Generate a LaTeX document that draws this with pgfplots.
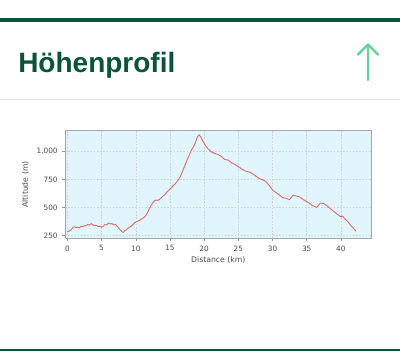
\documentclass[border=0pt]{standalone}
\usepackage{fontspec}
\setmainfont{DejaVu Sans}
\newfontfamily\titlefont{Liberation Sans}
\usepackage{pgfplots}
\pgfplotsset{compat=1.18}
\definecolor{darkgreen}{RGB}{10,84,58}
\definecolor{lightgreen}{RGB}{95,212,150}
\definecolor{plotbg}{RGB}{225,245,252}
\definecolor{profile}{RGB}{222,110,110}
\definecolor{axgray}{RGB}{75,75,75}
\begin{document}
\begin{tikzpicture}
\begin{scope}[x=0.75pt,y=-0.75pt]
\path[use as bounding box, fill=white] (0,0) rectangle (400,351);
\fill[darkgreen] (0,17.5) rectangle (400,22);
\fill[darkgreen] (0,348.5) rectangle (400,351);
\draw[color={rgb,255:red,232;green,232;blue,232}, line width=0.75pt] (0,99.5) -- (400,99.5);
\node[anchor=base west, inner sep=0pt, text=darkgreen, font=\titlefont\bfseries\fontsize{21}{24}\selectfont] at (18,72) {Höhenprofil};
\draw[lightgreen, line width=1.6pt, line cap=round, line join=round] (368,80) -- (368,44.5);
\draw[lightgreen, line width=1.6pt, line cap=round, line join=round] (358,54.5) -- (368,44.5) -- (378,54.5);
\end{scope}
\begin{axis}[
  at={(48.75pt,-178.7pt)}, anchor=south west,
  scale only axis, width=230pt, height=80.7pt,
  xmin=-0.35, xmax=44.5, ymin=227, ymax=1187,
  axis background/.style={fill=plotbg},
  axis line style={gray!70, line width=0.4pt},
  xtick={0,5,...,40}, ytick={250,500,750,1000},
  tick align=outside, tick pos=left,
  major tick length=2pt,
  tick style={gray!80, line width=0.4pt},
  grid=major,
  major grid style={gray!35, line width=0.35pt, dash pattern=on 1.2pt off 1.2pt},
  /pgf/number format/assume math mode=true,
  /pgf/number format/1000 sep={,},
  ticklabel style={font=\fontsize{5.5}{6.5}\selectfont, text=axgray},
  xlabel={Distance (km)}, ylabel={Altitude (m)},
  label style={font=\fontsize{5.8}{6.8}\selectfont, text=axgray},
  xlabel style={yshift=3pt},
  ylabel style={yshift=-1pt},
]
\addplot[profile, line width=0.7pt, line join=round] coordinates {
(0,285) (0.25,290) (0.5,300) (0.75,318) (1.0,330) (1.25,322) (1.5,326) (1.75,320)
(2.0,334) (2.25,330) (2.5,340) (2.75,338) (3.0,350) (3.25,345) (3.5,358) (3.75,345)
(4.0,338) (4.25,342) (4.5,330) (4.75,336) (5.0,326) (5.25,334) (5.5,350) (5.75,345)
(6.0,364) (6.25,355) (6.5,358) (6.75,348) (7.0,352) (7.25,335) (7.5,318) (7.75,300)
(8.0,285) (8.2,280) (8.4,296) (8.6,300) (8.8,315) (9.0,322) (9.25,330) (9.5,345)
(9.75,360) (10.0,372) (10.25,378) (10.5,385) (10.75,395) (11.0,405) (11.25,415)
(11.5,432) (11.75,460) (12.0,492) (12.25,520) (12.5,545) (12.75,562) (13.0,568)
(13.25,565) (13.5,575) (13.75,590) (14.0,604) (14.25,615) (14.5,635) (14.75,650)
(15.0,665) (15.25,680) (15.5,700) (15.75,712) (16.0,730) (16.25,750) (16.5,775)
(16.75,810) (17.0,850) (17.25,885) (17.5,925) (17.75,960) (18.0,995) (18.25,1025)
(18.5,1050) (18.75,1085) (19.0,1130) (19.25,1150) (19.5,1132) (19.75,1100)
(20.0,1075) (20.25,1050) (20.5,1030) (20.75,1015) (21.0,1000) (21.5,985) (22.0,975)
(22.5,958) (23.0,930) (23.5,925) (24.0,902) (24.5,885) (25.0,866) (25.5,845)
(26.0,828) (26.5,820) (27.0,806) (27.5,785) (28.0,762) (28.5,750) (29.0,735)
(29.5,700) (30.0,658) (30.5,635) (31.0,613) (31.5,590) (32.0,583) (32.5,572)
(32.75,590) (33.0,612) (33.5,605) (34.0,595) (34.5,572) (35.0,555) (35.25,545)
(35.5,538) (35.75,522) (36.0,515) (36.25,508) (36.5,503) (36.75,525) (37.0,540)
(37.5,538) (38.0,515) (38.5,490) (39.0,465) (39.5,440) (40.0,418) (40.25,425)
(40.5,405) (41.0,378) (41.5,338) (42.0,305) (42.2,290)
};
\end{axis}
\end{tikzpicture}
\end{document}
